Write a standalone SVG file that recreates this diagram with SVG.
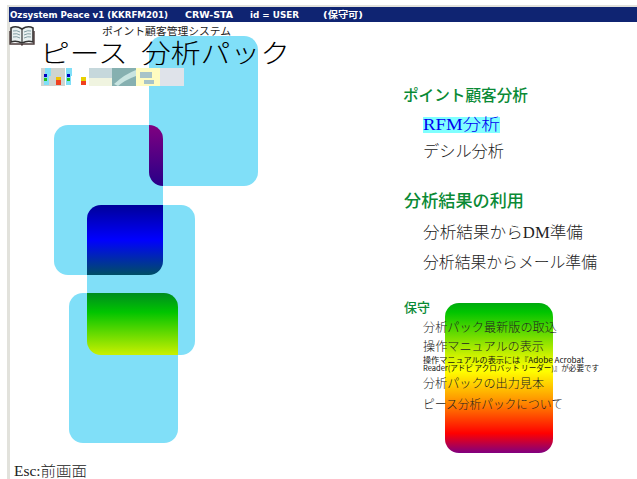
<svg xmlns="http://www.w3.org/2000/svg" width="637" height="479" viewBox="0 0 637 479" lang="ja">
<style>
text{font-family:"Noto Sans CJK JP","Liberation Sans",sans-serif;fill:#222;white-space:pre}
.bar{font-family:"DejaVu Sans","Noto Sans CJK JP",sans-serif;font-weight:700;font-size:9px;fill:#fff}
.h{fill:#0a8a35;font-weight:500}
.m{font-size:16px;font-weight:300;font-family:"Liberation Serif","Noto Sans CJK JP",serif}
.s{font-size:12px;font-weight:300}
.t{font-size:7.5px;fill:#111}
.p{fill:#80dff8}
</style>
<defs>
<linearGradient id="spec" gradientUnits="userSpaceOnUse" x1="0" y1="125" x2="0" y2="453">
<stop offset="0" stop-color="#800080"/>
<stop offset="0.18" stop-color="#2a0088"/>
<stop offset="0.245" stop-color="#00009a"/>
<stop offset="0.35" stop-color="#0000ff"/>
<stop offset="0.46" stop-color="#005060"/>
<stop offset="0.51" stop-color="#008a20"/>
<stop offset="0.57" stop-color="#00c400"/>
<stop offset="0.70" stop-color="#c8f000"/>
<stop offset="0.75" stop-color="#ffff00"/>
<stop offset="0.83" stop-color="#ffa000"/>
<stop offset="0.94" stop-color="#ff0000"/>
<stop offset="1" stop-color="#800080"/>
</linearGradient>
<clipPath id="cA"><rect x="149" y="36" width="109" height="150" rx="14"/></clipPath>
<clipPath id="cC"><rect x="87" y="205" width="108" height="150" rx="14"/></clipPath>
<clipPath id="cD"><rect x="69" y="293" width="109" height="150" rx="14"/></clipPath>
</defs>

<g id="chrome">
<rect x="0" y="0" width="637" height="479" fill="#fff"/>
<rect x="7" y="5" width="630" height="2" fill="#e2e2dc"/>
<rect x="7" y="5" width="3" height="474" fill="#e2e2dc"/>
<rect x="9" y="7" width="628" height="15" fill="#0f2472"/>
<text class="bar" x="10" y="18" textLength="158" lengthAdjust="spacingAndGlyphs">Ozsystem Peace v1 (KKRFM201)</text>
<text class="bar" x="185" y="18" textLength="48" lengthAdjust="spacingAndGlyphs">CRW-STA</text>
<text class="bar" x="250" y="18" textLength="49" lengthAdjust="spacingAndGlyphs">id = USER</text>
<text class="bar" x="323" y="18" textLength="40" lengthAdjust="spacingAndGlyphs">(保守可)</text>
</g>

<g id="panel-a"><rect class="p" x="149" y="36" width="109" height="150" rx="14"/></g>
<g id="panel-b"><rect class="p" x="54" y="125" width="109" height="150" rx="14"/></g>
<g id="panel-c"><rect class="p" x="87" y="205" width="108" height="150" rx="14"/></g>
<g id="panel-d"><rect class="p" x="69" y="293" width="109" height="150" rx="14"/></g>
<g id="panel-overlaps" fill="url(#spec)">
<rect x="54" y="125" width="109" height="150" rx="14" clip-path="url(#cA)"/>
<rect x="54" y="125" width="109" height="150" rx="14" clip-path="url(#cC)"/>
<rect x="69" y="293" width="109" height="150" rx="14" clip-path="url(#cC)"/>
</g>
<g id="panel-e"><rect x="445" y="303" width="108" height="150" rx="14" fill="url(#spec)"/></g>

<g id="book">
<path d="M11 28 Q16 25 22 29 Q28 25 33 28 V42 Q28 40 22 43 Q16 40 11 42Z" fill="#e8f0f0" stroke="#333" stroke-width="1.6"/>
<path d="M22 29V43" stroke="#333" stroke-width="1.2"/>
<path d="M13 31Q17 30 20 32M13 34Q17 33 20 35M13 37Q17 36 20 38M24 32Q28 30 31 31M24 35Q28 33 31 34M24 38Q28 36 31 37" fill="none" stroke="#6a8a90" stroke-width=".8"/>
<path d="M10 31V44H21L22 45L23 44H34V31" fill="none" stroke="#4a3a3a" stroke-width="1.4"/>
</g>

<g id="title">
<text x="102" y="35" font-size="10.7" textLength="129" lengthAdjust="spacingAndGlyphs">ポイント顧客管理システム</text>
<text x="40" y="63" font-size="26" font-weight="300" style="fill:#000" textLength="250" lengthAdjust="spacingAndGlyphs">ピース  分析パック</text>
</g>

<g id="thumbnails">
<rect x="41" y="68" width="24" height="18" fill="#cfd4d0"/>
<rect x="65" y="68" width="24" height="18" fill="#fff"/>
<rect x="45" y="68" width="6" height="8" fill="#80dff8"/>
<rect x="44" y="74" width="5" height="11" fill="#80dff8"/>
<rect x="44" y="74" width="3" height="3" fill="#0000c0"/>
<rect x="44" y="78" width="3" height="3" fill="#20c020"/>
<rect x="56" y="77" width="5" height="8" fill="#f0c000"/>
<rect x="56" y="80" width="5" height="5" fill="#f04020"/>
<rect x="66" y="68" width="6" height="8" fill="#80dff8"/>
<rect x="66" y="74" width="5" height="11" fill="#80dff8"/>
<rect x="67" y="74" width="3" height="3" fill="#0000c0"/>
<rect x="67" y="78" width="3" height="3" fill="#20c020"/>
<rect x="81" y="77" width="5" height="8" fill="#e8d000"/>
<rect x="81" y="81" width="5" height="4" fill="#f04020"/>
<rect x="89" y="68" width="23" height="18" fill="#c6d8dc"/>
<rect x="89" y="78" width="23" height="8" fill="#f0f4e0"/>
<rect x="112" y="68" width="24" height="18" fill="#86b0b0"/>
<path d="M114 84Q125 74 136 70V76Q125 80 118 86Z" fill="#c8e4e0"/>
<rect x="136" y="68" width="24" height="18" fill="#fffcc0"/>
<path d="M140 72h12v6h-12zM144 80h10v4h-10z" fill="#a8c4c8"/>
<rect x="160" y="68" width="24" height="18" fill="#dfe3ea"/>
</g>

<g id="menu-points">
<text class="h" x="403" y="101" font-size="15.6" textLength="125" lengthAdjust="spacingAndGlyphs">ポイント顧客分析</text>
<rect x="423" y="117" width="77" height="16" fill="#80ffff"/>
<text class="m" x="423" y="130" style="fill:#0000f0" textLength="77" lengthAdjust="spacingAndGlyphs">RFM分析</text>
<text class="m" x="423" y="157" textLength="81" lengthAdjust="spacingAndGlyphs">デシル分析</text>
</g>

<g id="menu-results">
<text class="h" x="404" y="207" font-size="17" textLength="120" lengthAdjust="spacingAndGlyphs">分析結果の利用</text>
<text class="m" x="423" y="238" textLength="160" lengthAdjust="spacingAndGlyphs">分析結果からDM準備</text>
<text class="m" x="423" y="268" textLength="174" lengthAdjust="spacingAndGlyphs">分析結果からメール準備</text>
</g>

<g id="menu-maintenance">
<text class="h" x="404" y="312" font-size="13" textLength="26" lengthAdjust="spacingAndGlyphs">保守</text>
<text class="s" x="423" y="332" textLength="134" lengthAdjust="spacingAndGlyphs">分析パック最新版の取込</text>
<text class="s" x="423" y="351" textLength="121" lengthAdjust="spacingAndGlyphs">操作マニュアルの表示</text>
<text class="t" x="423" y="363" textLength="161" lengthAdjust="spacingAndGlyphs">操作マニュアルの表示には『Adobe Acrobat</text>
<text class="t" x="423" y="371" textLength="176" lengthAdjust="spacingAndGlyphs">Reader(アドビ アクロバット リーダー)』が必要です</text>
<text class="s" x="423" y="388" textLength="121" lengthAdjust="spacingAndGlyphs">分析パックの出力見本</text>
<text class="s" x="423" y="409" textLength="140" lengthAdjust="spacingAndGlyphs">ピース分析パックについて</text>
</g>

<g id="footer">
<text x="14" y="476" font-size="14" font-weight="300" style="font-family:'Liberation Serif','Noto Sans CJK JP',serif" textLength="73" lengthAdjust="spacingAndGlyphs">Esc:前画面</text>
</g>
</svg>
